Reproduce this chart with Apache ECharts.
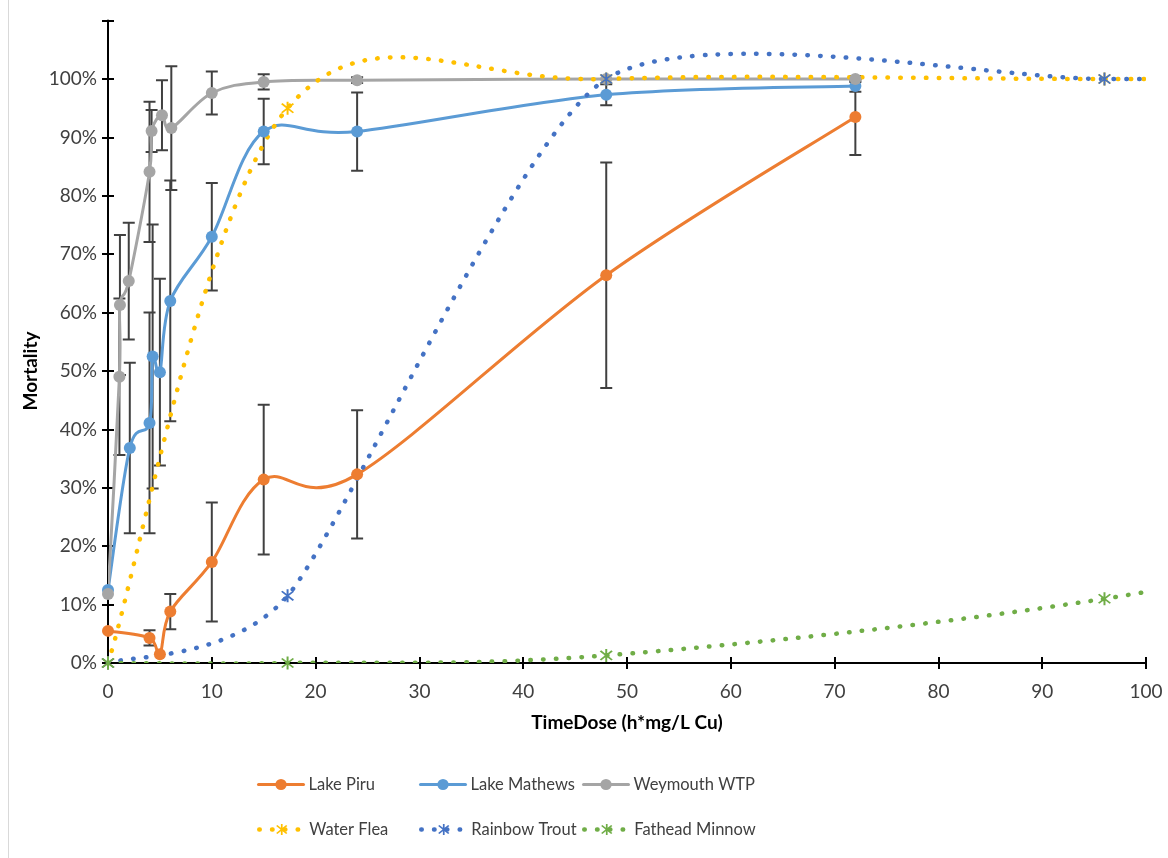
<!DOCTYPE html>
<html>
<head>
<meta charset="utf-8">
<script src="https://cdn.jsdelivr.net/npm/echarts@6/dist/echarts.min.js"></script>
<style>
html,body{margin:0;padding:0;background:#fff;}
#chart{width:1168px;height:858px;}
</style>
</head>
<body>
<div id="chart"></div>
<script>
// ---- data (TimeDose in h*mg/L Cu, mortality in %) ----
const xTicks = [0, 10, 20, 30, 40, 50, 60, 70, 80, 90, 100];
const yTicks = [0, 10, 20, 30, 40, 50, 60, 70, 80, 90, 100];

const piruX   = [0, 4, 5, 6, 10, 15, 24, 48, 72];
const piruY   = [5.5, 4.3, 1.5, 8.8, 17.3, 31.4, 32.3, 66.4, 93.5];
const piruErr = [0, 1.3, 0, 3, 10.2, 12.8, 11, 19.3, 6.5];

const mathX   = [0, 2.1, 4, 4.3, 5, 6, 10, 15, 24, 48, 72];
const mathY   = [12.5, 36.8, 41.1, 52.5, 49.8, 62, 73, 91, 91, 97.3, 98.8];
const mathErr = [0, 14.6, 18.9, 22.6, 16, 20.6, 9.2, 5.6, 6.7, 1.8, 1];

const weyX    = [0, 1.1, 1.15, 2, 4, 4.2, 5.2, 6.1, 10, 15, 24, 48, 72];
const weyY    = [11.8, 49, 61.3, 65.4, 84.1, 91.1, 93.8, 91.6, 97.6, 99.5, 99.8, 100, 100];
const weyErr  = [0, 13.4, 12, 10, 12, 3.6, 6, 10.6, 3.7, 1.3, 0.5, 0, 0.5];

const toxX     = [0, 17.3, 48, 96, 144];
const fleaY    = [0, 95, 100, 100, 100];
const troutY   = [0, 11.5, 100, 100, 100];
const minnowY  = [0, 0, 1.3, 11, 28];

const names = ['Lake Piru', 'Lake Mathews', 'Weymouth WTP', 'Water Flea', 'Rainbow Trout', 'Fathead Minnow'];
const colors = ['#ED7D31', '#5B9BD5', '#A5A5A5', '#FFC000', '#4472C4', '#70AD47'];

// ---- helpers ----
const pairs = (xs, ys) => xs.map((x, i) => [x, ys[i]]);
const triples = (xs, ys, es) => xs.map((x, i) => [x, ys[i], es[i]]);
const FONT = 'Lato, "Open Sans", sans-serif';
const STAR = 'path://M8.8,0L11.2,0L11.2,20L8.8,20Z M3.85,2.15L17.85,16.15L16.15,17.85L2.15,3.85Z M16.15,2.15L17.85,3.85L3.85,17.85L2.15,16.15Z';
const DOTS = [0.5, 12.3];

// Excel-like smoothed curve through the pixel positions given by the axes
function smoothPath(pts, f) {
  let d = 'M' + pts[0][0] + ',' + pts[0][1];
  for (let i = 0; i < pts.length - 1; i++) {
    const p0 = pts[Math.max(0, i - 1)], p1 = pts[i], p2 = pts[i + 1], p3 = pts[Math.min(pts.length - 1, i + 2)];
    const c1x = p1[0] + (p2[0] - p0[0]) * f, c1y = p1[1] + (p2[1] - p0[1]) * f;
    const c2x = p2[0] - (p3[0] - p1[0]) * f, c2y = p2[1] - (p3[1] - p1[1]) * f;
    d += 'C' + c1x + ',' + c1y + ',' + c2x + ',' + c2y + ',' + p2[0] + ',' + p2[1];
  }
  return d;
}
function curveSeries(xs, ys, color, width, dash, f) {
  return {
    type: 'custom', data: [[xs[0], ys[0]]], clip: true, silent: true, z: 2,
    renderItem: (params, api) => {
      const pts = xs.map((x, i) => api.coord([x, ys[i]]));
      return {
        type: 'path',
        shape: {pathData: smoothPath(pts, f)},
        style: {stroke: color, fill: null, lineWidth: width, lineDash: dash, lineCap: 'round', lineJoin: 'round'}
      };
    }
  };
}

function errRender(params, api) {
  const x = api.value(0), y = api.value(1), e = api.value(2);
  if (!e) return;
  const top = api.coord([x, y + e]);
  const bot = api.coord([x, y - e]);
  const w = 6;
  const st = {stroke: '#404040', lineWidth: 2};
  return {
    type: 'group',
    children: [
      {type: 'line', shape: {x1: top[0], y1: top[1], x2: bot[0], y2: bot[1]}, style: st},
      {type: 'line', shape: {x1: top[0] - w, y1: top[1], x2: top[0] + w, y2: top[1]}, style: st},
      {type: 'line', shape: {x1: bot[0] - w, y1: bot[1], x2: bot[0] + w, y2: bot[1]}, style: st}
    ]
  };
}
function errSeries(xs, ys, es) {
  return {type: 'custom', renderItem: errRender, data: triples(xs, ys, es), clip: true, z: 1, silent: true};
}

// marker series (line hidden; drawn by the curve series); legend icons get their own line style
function markSeries(i, xs, ys, symbol, size) {
  return {
    name: names[i], type: 'line', data: pairs(xs, ys), symbol: symbol, symbolSize: size, z: 3,
    itemStyle: {color: colors[i]},
    lineStyle: {color: colors[i], width: 3, opacity: 0}
  };
}

const lineWidths = [3, 3, 3, 4.5, 4.5, 4.5];
const lineDashes = [null, null, null, DOTS, DOTS, DOTS];
const legendPos = [[257, 776], [419, 776], [582, 776], [257, 821], [419, 821], [582, 821]];

const chart = echarts.init(document.getElementById('chart'), null, {renderer: 'canvas'});
chart.setOption({
  animation: false,
  backgroundColor: '#fff',
  grid: {left: 108, right: 22, top: 20.6, bottom: 195},
  xAxis: [{
    type: 'value', min: 0, max: 100, interval: 10,
    name: 'TimeDose (h*mg/L Cu)', nameLocation: 'middle', nameGap: 50,
    nameTextStyle: {fontFamily: FONT, fontWeight: 'bold', fontSize: 19, color: '#000'},
    axisLine: {lineStyle: {color: '#000', width: 2}},
    axisTick: {show: true, length: 6, lineStyle: {color: '#000', width: 2}},
    axisLabel: {fontFamily: FONT, fontSize: 19, color: '#404040', margin: 19,
      formatter: v => xTicks.includes(v) ? String(v) : ''},
    splitLine: {show: false}
  }, {
    type: 'value', min: 0, max: 100, interval: 10, position: 'bottom',
    axisLine: {show: false},
    axisTick: {show: true, inside: true, length: 6, lineStyle: {color: '#000', width: 2}},
    axisLabel: {show: false}, splitLine: {show: false}
  }],
  yAxis: [{
    type: 'value', min: 0, max: 110, interval: 10,
    axisLine: {show: true, lineStyle: {color: '#000', width: 2}},
    axisTick: {show: true, length: 6, lineStyle: {color: '#000', width: 2}},
    axisLabel: {fontFamily: FONT, fontSize: 19, color: '#404040', margin: 11,
      formatter: v => yTicks.includes(v) ? v + '%' : ''},
    splitLine: {show: false}
  }, {
    type: 'value', min: 0, max: 110, interval: 10, position: 'left',
    axisLine: {show: false},
    axisTick: {show: true, inside: true, length: 6, lineStyle: {color: '#000', width: 2}},
    axisLabel: {show: false}, splitLine: {show: false}
  }],
  legend: names.map((n, i) => ({
    data: [{name: n, lineStyle: {color: colors[i], width: lineWidths[i], type: lineDashes[i] || 'solid', opacity: 1, cap: 'round'}}],
    left: legendPos[i][0], top: legendPos[i][1], padding: 0,
    itemWidth: 45, itemHeight: 14, itemGap: 6,
    textStyle: {fontFamily: FONT, fontSize: 16.5, color: '#404040', padding: [0, 0, 0, 0]}
  })),
  graphic: [
    {type: 'text', x: 31, y: 371, rotation: Math.PI / 2,
      style: {text: 'Mortality', font: 'bold 19px ' + FONT, fill: '#000', textAlign: 'center', textVerticalAlign: 'middle'}},
    {type: 'line', shape: {x1: 8.5, y1: 0, x2: 8.5, y2: 858}, style: {stroke: '#d9d9d9', lineWidth: 1}}
  ],
  series: [
    errSeries(piruX, piruY, piruErr),
    errSeries(mathX, mathY, mathErr),
    errSeries(weyX, weyY, weyErr),
    curveSeries(piruX, piruY, colors[0], 3, null, 1 / 6),
    curveSeries(mathX, mathY, colors[1], 3, null, 1 / 6),
    curveSeries(weyX, weyY, colors[2], 3, null, 1 / 6),
    curveSeries(toxX, fleaY, colors[3], 4.5, DOTS, 1 / 6),
    curveSeries(toxX, troutY, colors[4], 4.5, DOTS, 0.11),
    curveSeries(toxX, minnowY, colors[5], 4.5, DOTS, 1 / 6),
    markSeries(0, piruX, piruY, 'circle', 12),
    markSeries(1, mathX, mathY, 'circle', 12),
    markSeries(2, weyX, weyY, 'circle', 12),
    markSeries(3, toxX, fleaY, STAR, 13),
    markSeries(4, toxX, troutY, STAR, 13),
    markSeries(5, toxX, minnowY, STAR, 13)
  ]
});
</script>
</body>
</html>
